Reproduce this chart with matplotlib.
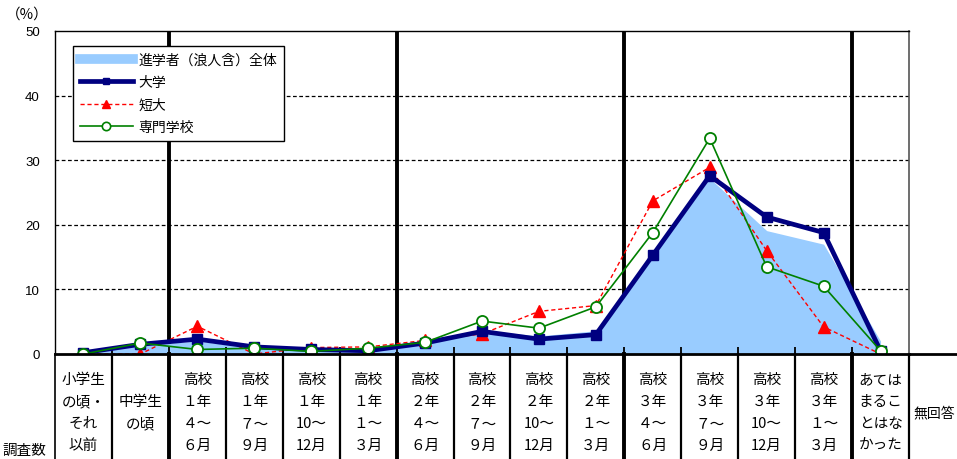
import matplotlib
matplotlib.use('Agg')
from matplotlib import pyplot as plt
from matplotlib.lines import Line2D
import numpy as np

plt.rcParams['font.family'] = ['Noto Sans CJK JP', 'DejaVu Sans']

# category labels (rows of each cell)
labels = [
    ['小学生', 'の頃・', 'それ', '以前'],
    ['中学生', 'の頃'],
    ['高校', '１年', '４～', '６月'],
    ['高校', '１年', '７～', '９月'],
    ['高校', '１年', '10～', '12月'],
    ['高校', '１年', '１～', '３月'],
    ['高校', '２年', '４～', '６月'],
    ['高校', '２年', '７～', '９月'],
    ['高校', '２年', '10～', '12月'],
    ['高校', '２年', '１～', '３月'],
    ['高校', '３年', '４～', '６月'],
    ['高校', '３年', '７～', '９月'],
    ['高校', '３年', '10～', '12月'],
    ['高校', '３年', '１～', '３月'],
    ['あては', 'まるこ', 'とはな', 'かった'],
]
extra_label = '無回答'

# values (%)
zentai = [0.2, 1.4, 2.0, 1.0, 0.7, 0.5, 1.7, 3.7, 2.8, 3.6, 15.2, 27.2, 19.1, 17.0, 2.0]
daigaku = [0.2, 1.5, 2.3, 1.1, 0.7, 0.5, 1.7, 3.5, 2.3, 3.0, 15.3, 27.6, 21.2, 18.8, 0.5]
tandai = [0.0, 0.0, 4.3, 0.0, 1.0, 1.1, 2.1, 3.1, 6.6, 7.5, 23.7, 28.9, 16.0, 4.2, 0.0]
senmon = [0.0, 1.7, 0.7, 0.9, 0.4, 0.9, 1.8, 5.1, 4.0, 7.3, 18.8, 33.4, 13.5, 10.5, 0.5]

W, H = 957, 460
fig = plt.figure(figsize=(W / 100, H / 100), dpi=100)
ax = fig.add_axes([55 / W, 105 / H, 854 / W, 323 / H])

x = np.arange(len(labels))
ax.set_xlim(-0.5, 14.5)
ax.set_ylim(0, 50)

# grid and dividers (behind the area)
for v in [10, 20, 30, 40]:
    ax.axhline(v, color='black', lw=0.9, ls=(0, (3, 2)), zorder=0.5)
for b in [1.5, 5.5, 9.5, 13.5]:
    ax.axvline(b, color='black', lw=2.8, zorder=0.6)

ax.fill_between(x, zentai, 0, color='#99CCFF', lw=0, zorder=1)
ax.plot(x, tandai, color='#FF0000', lw=1, ls=(0, (3, 2)), marker='^',
        markersize=8, zorder=3)
ax.plot(x, daigaku, color='#000080', lw=3.4, marker='s', markersize=7.5,
        zorder=4)
ax.plot(x, senmon, color='#008000', lw=1.2, marker='o', markersize=8,
        markerfacecolor='white', markeredgewidth=1.3, zorder=5)

# axes frame
for s in ['left', 'top']:
    ax.spines[s].set_linewidth(1)
ax.spines['right'].set_color('#555555')
ax.spines['right'].set_linewidth(1.2)
ax.spines['bottom'].set_linewidth(2)
for s in ax.spines.values():
    s.set_zorder(6)

ax.set_xticks(np.arange(0.5, 14, 1))
ax.tick_params(axis='x', direction='in', length=5, width=1.3, labelbottom=False)
ax.set_yticks(range(0, 51, 10))
ax.tick_params(axis='y', length=0, pad=11)
for t in ax.get_yticklabels():
    t.set_fontfamily(['Liberation Sans', 'DejaVu Sans'])
    t.set_fontsize(9.5)

# table below the axis
tr = ax.get_xaxis_transform()
def yf(py):
    return (355 - py) / 323

bounds = np.arange(-0.5, 15.6, 1)
for b in bounds:
    lw = 2.8 if b in (1.5, 5.5, 9.5, 13.5) else 1.6
    if b == -0.5:
        lw = 1.2
    ax.plot([b, b], [0, yf(470)], color='black', lw=lw, transform=tr,
            clip_on=False, zorder=6)
ax.plot([14.5, 15.7], [0, 0], color='black', lw=2, transform=tr,
        clip_on=False, zorder=6)

for i, rows in enumerate(labels):
    n = len(rows)
    for k, r in enumerate(rows):
        py = 413 + (k - (n - 1) / 2) * 22
        ax.text(i, yf(py), r, transform=tr, ha='center', va='center',
                fontsize=10.5, clip_on=False)
fig.text(913 / W, 1 - 413 / H, extra_label, fontsize=10, ha='left', va='center')

fig.text(2 / W, 1 - 451 / H, '調査数', fontsize=10.5, ha='left', va='center')
fig.text(6 / W, 1 - 15 / H, '（%）', fontsize=10.5, ha='left', va='center')

handles = [
    Line2D([], [], color='#99CCFF', lw=7),
    Line2D([], [], color='#000080', lw=3.4, marker='s', markersize=5),
    Line2D([], [], color='#FF0000', lw=1, ls=(0, (3, 2)), marker='^', markersize=6),
    Line2D([], [], color='#008000', lw=1.2, marker='o', markersize=6,
           markerfacecolor='white', markeredgewidth=1.2),
]
names = ['進学者（浪人含）全体', '大学', '短大', '専門学校']
leg = ax.legend(handles, names, loc='upper left',
                bbox_to_anchor=((73 - 55) / 854, (355 - 47) / 323),
                fontsize=10, handlelength=3.8, handletextpad=0.4,
                labelspacing=0.6, borderpad=0.5, borderaxespad=0,
                fancybox=False, framealpha=1, edgecolor='black')
leg.get_frame().set_linewidth(1)
leg.set_zorder(7)

fig.savefig('out.png', dpi=100)
